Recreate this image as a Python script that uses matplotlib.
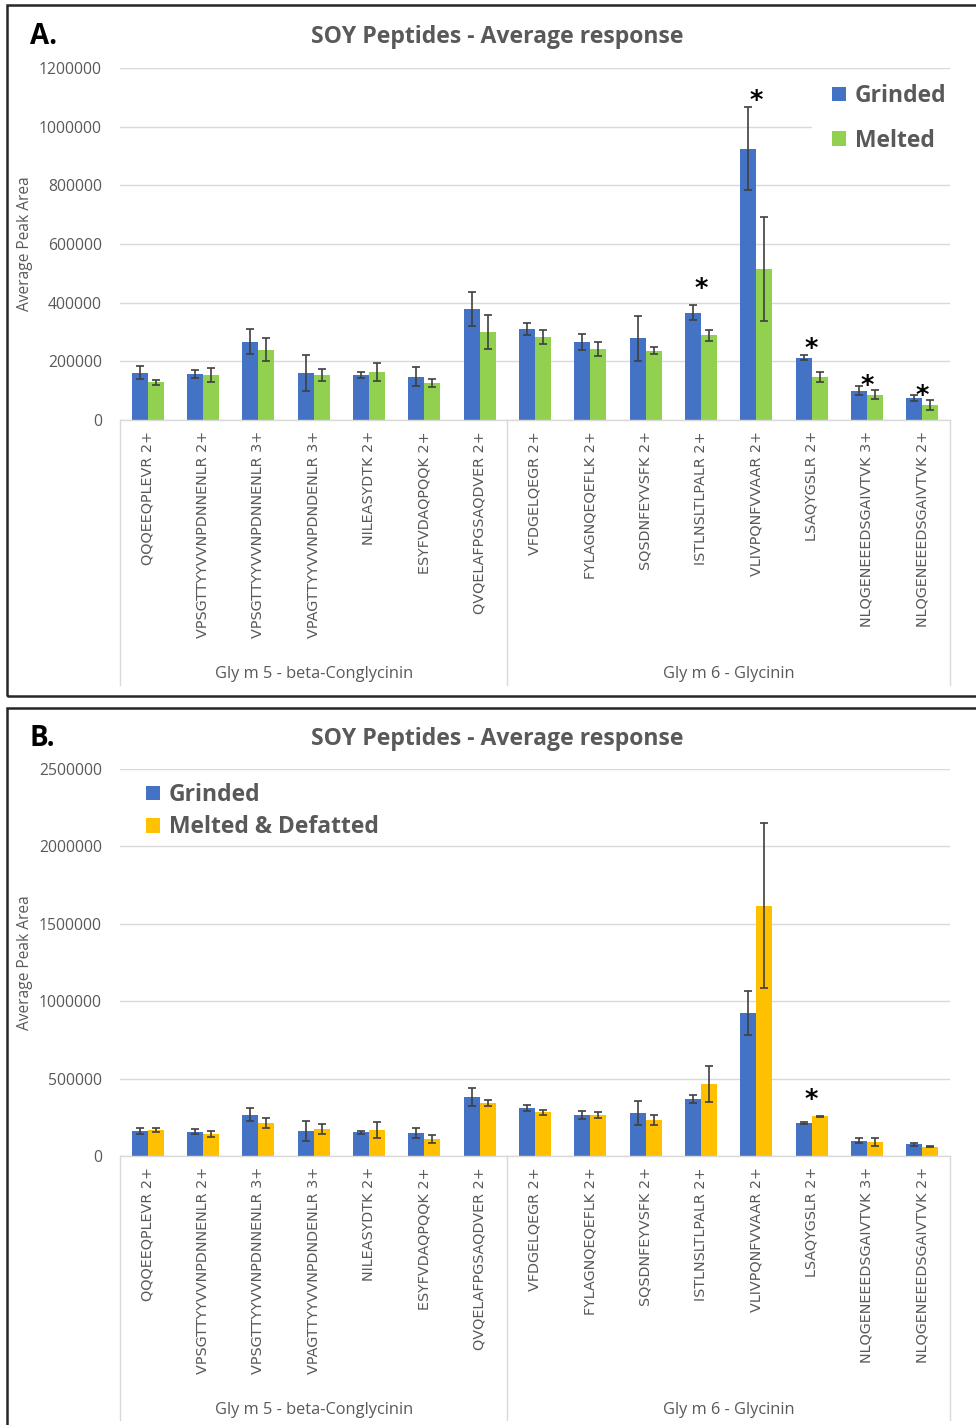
import matplotlib
matplotlib.use("Agg")
import matplotlib.pyplot as plt
import numpy as np
from matplotlib.patches import Rectangle, Patch
from matplotlib.lines import Line2D

# ---- data -----------------------------------------------------------------
peptides = [
    "QQQEEQPLEVR 2+", "VPSGTTYYVVNPDNNENLR 2+", "VPSGTTYYVVNPDNNENLR 3+",
    "VPAGTTYYVVNPDNDENLR 3+", "NILEASYDTK 2+", "ESYFVDAQPQQK 2+",
    "QVQELAFPGSAQDVER 2+", "VFDGELQEGR 2+", "FYLAGNQEQEFLK 2+",
    "SQSDNFEYVSFK 2+", "ISTLNSLTLPALR 2+", "VLIVPQNFVVAAR 2+",
    "LSAQYGSLR 2+", "NLQGENEEEDSGAIVTVK 3+", "NLQGENEEEDSGAIVTVK 2+",
]
protein_groups = ["Gly m 5 - beta-Conglycinin", "Gly m 6 - Glycinin"]
group_sizes = [7, 8]

grinded = [161000, 157000, 267000, 161000, 153000, 147000, 380000, 311000,
           266000, 278000, 366000, 925000, 213000, 100000, 75000]
grinded_err = [22000, 15000, 43000, 62000, 10000, 32000, 58000, 20000,
               26000, 77000, 26000, 141000, 9000, 16000, 10000]

melted = [128000, 152000, 240000, 153000, 163000, 126000, 301000, 282000,
          241000, 236000, 289000, 514000, 146000, 86000, 51000]
melted_err = [9000, 24000, 38000, 20000, 31000, 14000, 58000, 24000,
              24000, 12000, 18000, 178000, 18000, 15000, 17000]

defatted = [168000, 142000, 213000, 174000, 168000, 108000, 342000, 282000,
            265000, 232000, 465000, 1617000, 256000, 92000, 60000]
defatted_err = [14000, 17000, 30000, 30000, 51000, 27000, 22000, 15000,
                17000, 30000, 115000, 532000, 5000, 26000, 5000]

# significance markers: peptide index and height of the asterisk
stars_a_idx = [10, 11, 12, 13, 14]
stars_a_y = [467000, 1108000, 262000, 136000, 102000]
stars_b_idx = [12]
stars_b_y = [399000]

# ---- layout helpers ---------------------------------------------------------
W, H = 976, 1425
fig = plt.figure(figsize=(W / 100, H / 100), dpi=100)
fig.patch.set_facecolor("white")

GREY_TXT = "#595959"
GRID = "#D9D9D9"
BLUE = "#4472C4"
GREEN = "#92D050"
GOLD = "#FFC000"
FONT = "Open Sans"


def px_axes(l, t, r, b):
    return fig.add_axes([l / W, 1 - b / H, (r - l) / W, (b - t) / H])


def fig_xy(x, y):
    return x / W, 1 - y / H


def draw_panel(ax, top_px, bot_px, series2, err2, color2, labels, ymax,
               step, star_idx, star_y, letter, title_y, frame_top, frame_bot,
               legend_kw, label_bottom_px, group_label_px):
    n = len(peptides)
    x = np.arange(n)
    bw = 0.29
    ax.bar(x - bw / 2, grinded, bw, color=BLUE, zorder=2,
           yerr=grinded_err, ecolor="#404040",
           error_kw=dict(elinewidth=1.2, capsize=2.6, capthick=1.2))
    ax.bar(x + bw / 2, series2, bw, color=color2, zorder=2,
           yerr=err2, ecolor="#404040",
           error_kw=dict(elinewidth=1.2, capsize=2.6, capthick=1.2))

    ax.set_xlim(-0.5, n - 0.5)
    ax.set_ylim(0, ymax)
    ax.set_yticks(np.arange(0, ymax + 1, step))
    ax.set_yticklabels([f"{int(v)}" for v in np.arange(0, ymax + 1, step)],
                       fontsize=11.3, color=GREY_TXT, family=FONT)
    ax.yaxis.grid(True, color=GRID, lw=1.0)
    ax.set_axisbelow(True)
    for s in ["top", "right", "left"]:
        ax.spines[s].set_visible(False)
    ax.spines["bottom"].set_color(GRID)
    ax.spines["bottom"].set_linewidth(1.0)
    ax.tick_params(axis="y", length=0, pad=13)
    ax.tick_params(axis="x", length=0, pad=8)
    ax.set_xticks(x)
    ax.set_xticklabels(peptides, rotation=90, fontsize=10.4, color=GREY_TXT,
                       family="DejaVu Sans", va="top", ha="center")

    # multi-level category separators and group names
    y0 = fig_xy(0, bot_px)[1]
    y1 = fig_xy(0, label_bottom_px)[1]
    bounds = np.concatenate([[0], np.cumsum(group_sizes)]) - 0.5
    for b in bounds:
        xf = fig.transFigure.inverted().transform(
            ax.transData.transform((b, 0)))[0]
        fig.add_artist(Line2D([xf, xf], [y0, y1], color=GRID, lw=1.0))
    for g, name in enumerate(protein_groups):
        xc = (bounds[g] + bounds[g + 1]) / 2
        xf = fig.transFigure.inverted().transform(
            ax.transData.transform((xc, 0)))[0]
        fig.text(xf, fig_xy(0, group_label_px)[1], name, ha="center",
                 va="center", fontsize=11.8, color=GREY_TXT, family=FONT)

    # significance asterisks
    for i, yv in zip(star_idx, star_y):
        ax.annotate("*", (i, yv), xytext=(0, -10), textcoords="offset points",
                    ha="center", va="baseline", fontsize=18.5,
                    fontweight="bold", color="black", family="DejaVu Sans",
                    zorder=4)

    ax.text(-0.115, 0.5, "Average Peak Area", rotation=90,
            transform=ax.transAxes, fontsize=11.2, color=GREY_TXT,
            family=FONT, ha="center", va="center")

    fig.text(*fig_xy(497, title_y), "SOY Peptides - Average response",
             ha="center", va="center", fontsize=16.6, fontweight="bold",
             color=GREY_TXT, family=FONT)
    fig.text(*fig_xy(30, title_y), letter, ha="left", va="center",
             fontsize=20, fontweight="bold", color="black", family=FONT)

    handles = [Patch(facecolor=BLUE, edgecolor="none"),
               Patch(facecolor=color2, edgecolor="none")]
    leg = ax.legend(handles, labels, frameon=False, handlelength=0.6,
                    handleheight=0.6, handletextpad=0.4,
                    prop=dict(family=FONT, weight="bold", size=16.5),
                    **legend_kw)
    for t in leg.get_texts():
        t.set_color(GREY_TXT)

    # panel frame
    fx, fy = fig_xy(7, frame_bot)
    fig.add_artist(Rectangle((fx, fy), (W + 20) / W,
                             (frame_bot - frame_top) / H,
                             transform=fig.transFigure, fill=False,
                             edgecolor="#262626", lw=1.8, clip_on=False))


# ---- panel A ----------------------------------------------------------------
axA = px_axes(120, 68, 950, 420)
# white backing behind the legend
axA.add_patch(Rectangle(((812 - 120) / 830, (420 - 165) / 352),
                        0.2, (165 - 78) / 352, transform=axA.transAxes,
                        facecolor="white", edgecolor="none", zorder=1))
draw_panel(axA, 68, 420, melted, melted_err, GREEN, ["Grinded", "Melted"],
           1200000, 200000, stars_a_idx, stars_a_y, "A.", 37, 5, 696,
           dict(loc="upper left",
                bbox_to_anchor=((823 - 120) / 830, (420 - 75) / 352),
                borderaxespad=0, labelspacing=0.9),
           685, 674)

# ---- panel B ----------------------------------------------------------------
axB = px_axes(120, 769, 950, 1156)
draw_panel(axB, 769, 1156, defatted, defatted_err, GOLD,
           ["Grinded", "Melted & Defatted"],
           2500000, 500000, stars_b_idx, stars_b_y, "B.", 739, 708, 1440,
           dict(loc="upper left",
                bbox_to_anchor=((137 - 120) / 830, (1156 - 774) / 387),
                borderaxespad=0, labelspacing=0.36),
           1420, 1410)

fig.savefig("out.png", dpi=100, facecolor="white")
